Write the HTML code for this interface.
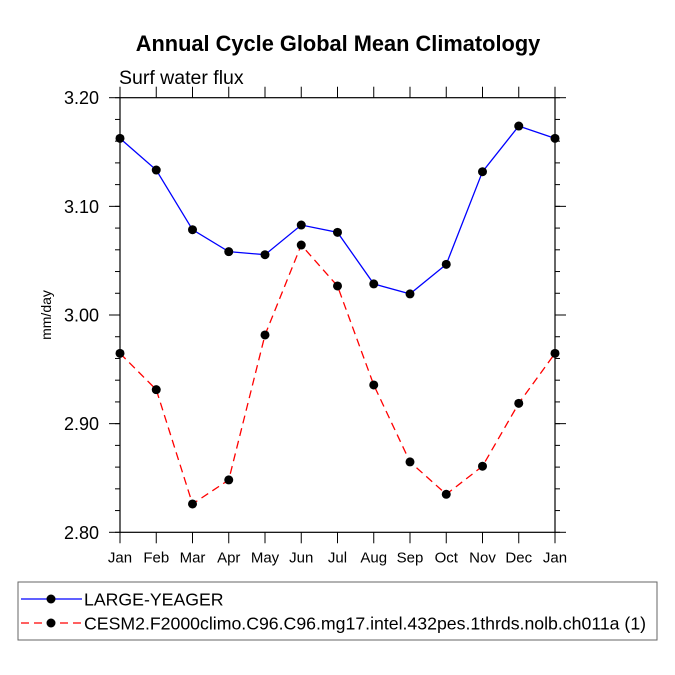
<!DOCTYPE html>
<html><head><meta charset="utf-8"><style>
html,body{margin:0;padding:0;background:#fff;}
svg{display:block;font-family:"Liberation Sans",sans-serif;}
</style></head><body>
<svg id="chart" width="675" height="675" viewBox="0 0 675 675">
<text x="338" y="51" text-anchor="middle" font-size="21.8" font-weight="bold">Annual Cycle Global Mean Climatology</text>
<text x="119" y="84" font-size="19.5">Surf water flux</text>
<text transform="translate(51,315) rotate(-90)" text-anchor="middle" font-size="14">mm/day</text>
<g id="axes"></g>
<g id="series"></g>
<rect x="18" y="582" width="639" height="58" fill="none" stroke="#666" stroke-width="1"/>
<g>
<line x1="21" y1="599" x2="82" y2="599" stroke="#0000ff" stroke-width="1.3"/>
<circle cx="51" cy="599" r="4.5" fill="#000"/>
<text x="84" y="605.5" font-size="17.7">LARGE-YEAGER</text>
</g>
<g>
<line x1="21" y1="623" x2="82" y2="623" stroke="#ff0000" stroke-width="1.3" stroke-dasharray="8,5"/>
<circle cx="51" cy="623" r="4.5" fill="#000"/>
<text x="84" y="629.5" font-size="17.7">CESM2.F2000climo.C96.C96.mg17.intel.432pes.1thrds.nolb.ch011a (1)</text>
</g>
</svg>
<script>
const months = ["Jan","Feb","Mar","Apr","May","Jun","Jul","Aug","Sep","Oct","Nov","Dec","Jan"];
const largeYeager = [3.1626,3.1334,3.0785,3.0583,3.0555,3.0828,3.0761,3.0286,3.0194,3.0466,3.1319,3.1739,3.1626];
const cesm2 = [2.9647,2.9313,2.8261,2.8482,2.9816,3.0644,3.0267,2.9356,2.8648,2.8350,2.8608,2.9187,2.9647];
const yTicks = [2.80,2.90,3.00,3.10,3.20];
const yTickLabels = ["2.80","2.90","3.00","3.10","3.20"];

const NS="http://www.w3.org/2000/svg";
const L=120,R=555,T=97.7,B=532.3,yMin=2.8,yMax=3.2;
const xs=i=>L+(R-L)*i/(months.length-1);
const ys=v=>B-(v-yMin)/(yMax-yMin)*(B-T);
const axes=document.getElementById('axes'),ser=document.getElementById('series');
function mk(tag,attrs,parent){const e=document.createElementNS(NS,tag);for(const k in attrs)e.setAttribute(k,attrs[k]);parent.appendChild(e);return e;}
const frame=mk('rect',{x:L,y:T,width:R-L,height:B-T,fill:'none',stroke:'#000','stroke-width':1.2},axes);


months.forEach((m,i)=>{
  const x=xs(i);
  mk('line',{x1:x,y1:B,x2:x,y2:B+11,stroke:'#000','stroke-width':1},axes);
  mk('line',{x1:x,y1:T,x2:x,y2:T-11,stroke:'#000','stroke-width':1},axes);
  const t=mk('text',{x:x,y:B+30,'text-anchor':'middle','font-size':15},axes);
  t.textContent=m;
  
  
});
for(let v=yMin;v<=yMax+1e-9;v+=0.02){
  const y=ys(v);
  mk('line',{x1:L,y1:y,x2:L-5,y2:y,stroke:'#000','stroke-width':1},axes);
  mk('line',{x1:R,y1:y,x2:R+5,y2:y,stroke:'#000','stroke-width':1},axes);
}
yTicks.forEach((v,i)=>{
  const y=ys(v);
  mk('line',{x1:L,y1:y,x2:L-11,y2:y,stroke:'#000','stroke-width':1},axes);
  mk('line',{x1:R,y1:y,x2:R+11,y2:y,stroke:'#000','stroke-width':1},axes);
  const t=mk('text',{x:L-21,y:y+6.5,'text-anchor':'end','font-size':18},axes);
  t.textContent=yTickLabels[i];
  
  
});
function drawSeries(vals,color,dash,name){
  const g=mk('g',{},ser);
  
  
  const pts=vals.map((v,i)=>xs(i)+','+ys(v)).join(' ');
  const a={points:pts,fill:'none',stroke:color,'stroke-width':1.3};
  if(dash)a['stroke-dasharray']=dash;
  mk('polyline',a,g);
  vals.forEach((v,i)=>{
    const c=mk('circle',{cx:xs(i),cy:ys(v),r:4.5,fill:'#000'},g);
    
    
  });
}
drawSeries(largeYeager,'#0000ff',null,'large-yeager-series');
drawSeries(cesm2,'#ff0000','8,5','cesm2-series');
</script>
</body></html>
